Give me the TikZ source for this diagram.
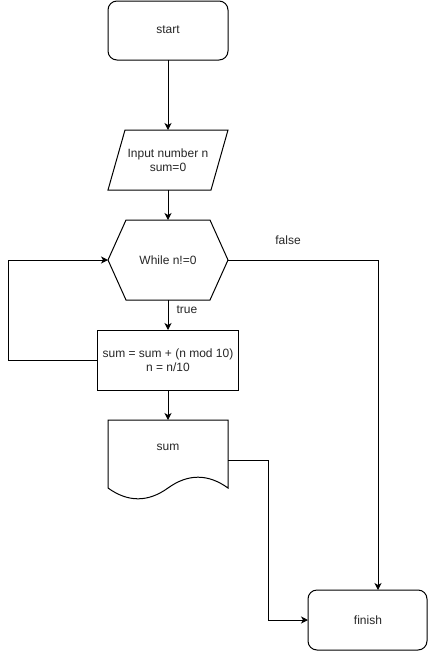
\documentclass[tikz,border=0pt]{standalone}
\usepackage{fontspec}
\setmainfont{Liberation Sans}
\usetikzlibrary{arrows.meta}
\begin{document}
\begin{tikzpicture}[x=1pt,y=-1pt,
  every node/.style={font=\fontsize{12}{14}\selectfont, align=center, text=black!85},
  shp/.style={draw, line width=1pt},
  conn/.style={line width=1pt, -{Stealth[length=7pt,width=7pt,inset=2pt]}},
  lbl/.style={inner sep=0pt}]
\useasboundingbox (0,0) rectangle (428,651);
% start
\draw[shp, rounded corners=9pt] (108,1) rectangle (228,60);
\node (start) at (168,30) {start};
\coordinate (startB) at (168,60);
% input
\draw[shp] (125,130) -- (228,130) -- (211,190) -- (108,190) -- cycle;
\node (inp) at (168,160) {Input number n\\sum=0};
\coordinate (inpT) at (168,130);
\coordinate (inpB) at (168,190);
% while hexagon
\draw[shp] (108,260) -- (126,220) -- (210,220) -- (228,260) -- (210,300) -- (126,300) -- cycle;
\node (wh) at (168,260) {While n!=0};
\coordinate (whT) at (168,220);
\coordinate (whB) at (168,300);
\coordinate (whL) at (108,260);
\coordinate (whR) at (228,260);
% process
\draw[shp] (97,330) rectangle (238,390);
\node (proc) at (168,360) {sum = sum + (n mod 10)\\n = n/10};
\coordinate (procT) at (168,330);
\coordinate (procB) at (168,390);
\coordinate (procL) at (97,360);
% document
\draw[shp] (108,420) -- (228,420) -- (228,488)
  .. controls (208,473.6) and (188,473.6) .. (168,488)
  .. controls (148,502.4) and (128,502.4) .. (108,488) -- cycle;
\node (doc) at (168,447) {sum};
\coordinate (docT) at (168,420);
\coordinate (docR) at (228,460);
% finish
\draw[shp, rounded corners=9pt] (308,590) rectangle (427,650);
\node (fin) at (368,620) {finish};
\coordinate (finT) at (378,590);
\coordinate (finL) at (308,620);
% connectors
\draw[conn] (startB) -- (inpT);
\draw[conn] (inpB) -- (whT);
\draw[conn] (whB) -- (procT);
\draw[conn] (procB) -- (docT);
\draw[conn] (procL) -- (8,360) -- (8,260) -- (whL);
\draw[conn] (whR) -- (378,260) -- (finT);
\draw[conn] (docR) -- (268,460) -- (268,620) -- (finL);
% labels
\node[lbl] (tl) at (187,310) {true};
\node[lbl] (fl) at (288,240) {false};
\end{tikzpicture}
\end{document}
